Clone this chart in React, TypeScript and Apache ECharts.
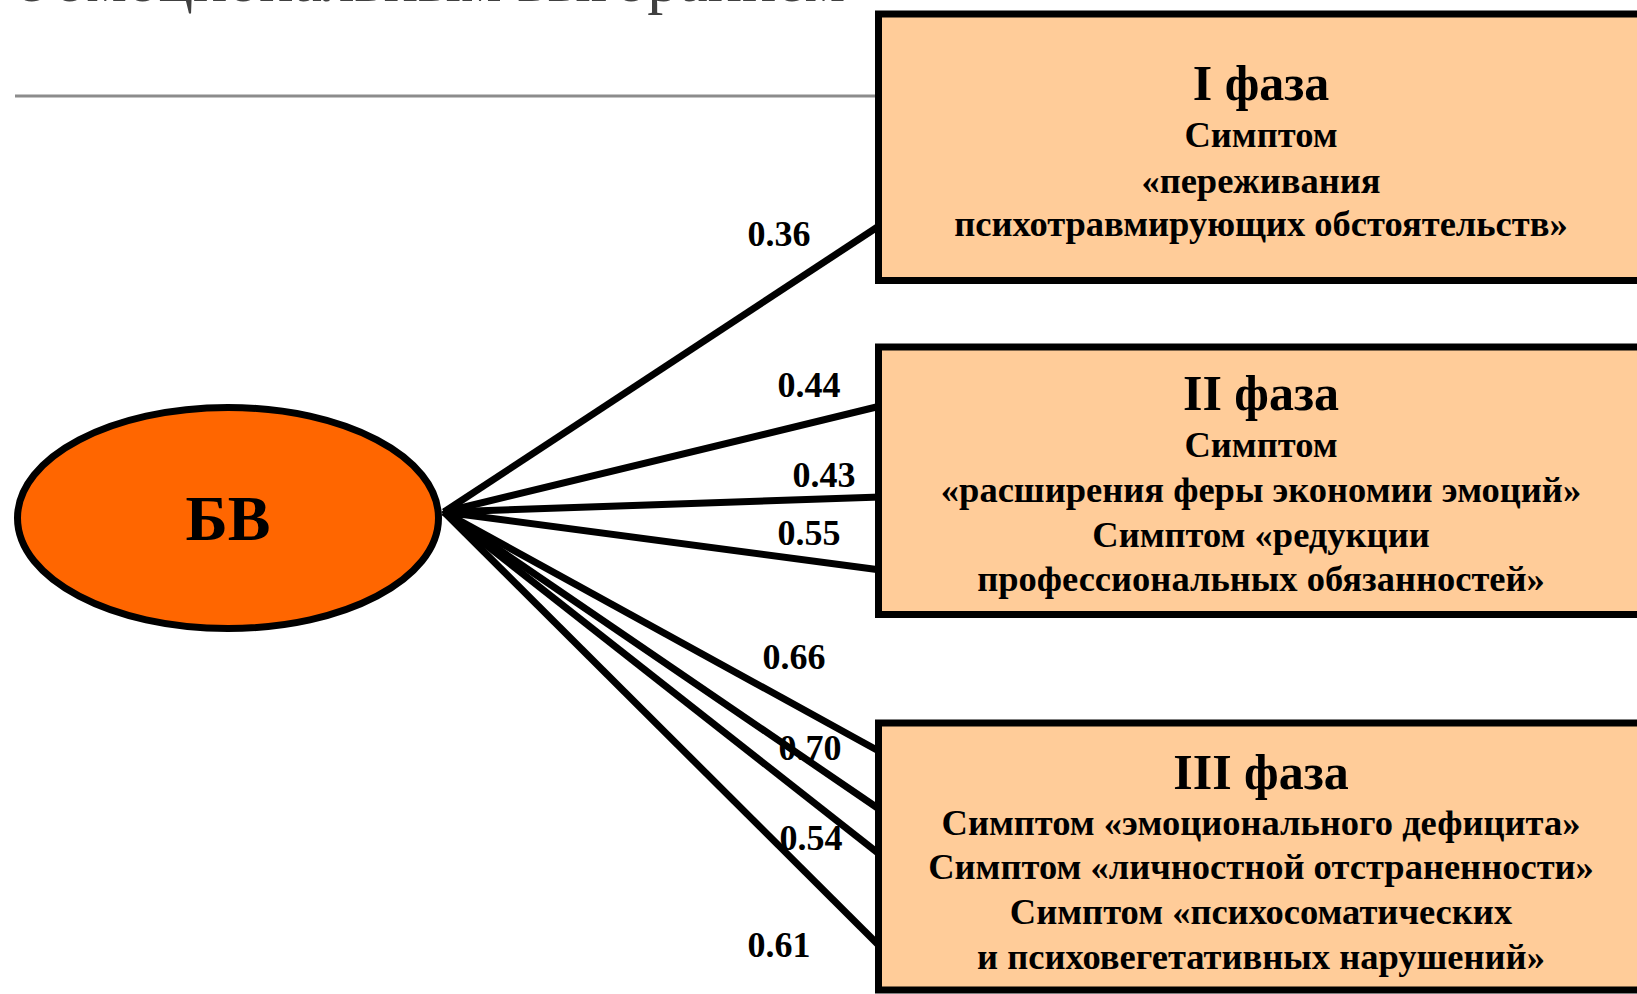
import React, { useEffect, useRef } from "react";
import * as echarts from "echarts";

// ---------- data ----------
const slideTitle = "с эмоциональным выгоранием";
const centerLabel = "БВ";
const coefficients = [0.36, 0.44, 0.43, 0.55, 0.66, 0.7, 0.54, 0.61];
const phaseTitles = ["I фаза", "II фаза", "III фаза"];
const phaseLines = [
  ["Симптом", "«переживания", "психотравмирующих обстоятельств»"],
  [
    "Симптом",
    "«расширения феры экономии эмоций»",
    "Симптом «редукции",
    "профессиональных обязанностей»",
  ],
  [
    "Симптом «эмоционального дефицита»",
    "Симптом «личностной отстраненности»",
    "Симптом «психосоматических",
    "и психовегетативных нарушений»",
  ],
];

// ---------- layout ----------
const W = 1637;
const H = 994;
const HUB = { x: 444, y: 512 };
const ELLIPSE = { cx: 228, cy: 518, rx: 210.5, ry: 110.5 };
const BOX_X = 878.5;
const BOX_W = 800;
const BOXES = [
  { y: 14, h: 266.5 },
  { y: 347, h: 267.5 },
  { y: 723, h: 267 },
];
const LINE_END_Y = [225, 406, 497, 570, 752, 810, 855, 947];
const LABEL_POS = [
  [779, 234],
  [809, 385],
  [824, 475],
  [809, 533],
  [794, 657],
  [810, 748],
  [811, 838],
  [779, 945],
];
const TEXT_CX = 1261;
const TITLE_Y = [83, 393, 772];
const BODY_Y = [
  [134, 180, 223],
  [444, 489, 534, 578],
  [822, 866, 911, 956],
];
const SERIF = "'Liberation Serif', 'DejaVu Serif', serif";

function buildGraphic(): any[] {
  const g: any[] = [];
  // slide title (cut off at top, as in the source slide)
  g.push({
    type: "text",
    z: 1,
    x: 15,
    y: 11,
    style: {
      text: slideTitle,
      x: 0,
      y: 0,
      fill: "#404040",
      font: `64px ${SERIF}`,
      align: "left",
      verticalAlign: "bottom",
    },
  });
  g.push({
    type: "line",
    z: 1,
    shape: { x1: 15, y1: 96, x2: 880, y2: 96 },
    style: { stroke: "#8c8c8c", lineWidth: 3 },
  });
  // connector lines
  LINE_END_Y.forEach((y) => {
    g.push({
      type: "line",
      z: 2,
      shape: { x1: HUB.x, y1: HUB.y, x2: BOX_X + 2, y2: y },
      style: { stroke: "#000", lineWidth: 7 },
    });
  });
  // ellipse
  g.push({
    type: "ellipse",
    z: 3,
    shape: ELLIPSE,
    style: { fill: "#FF6600", stroke: "#000", lineWidth: 7 },
  });
  g.push({
    type: "polygon",
    z: 4,
    shape: {
      points: [
        [HUB.x - 3, HUB.y],
        [HUB.x + 18, HUB.y - 14],
        [HUB.x + 18, HUB.y + 16],
      ],
    },
    style: { fill: "#000" },
  });
  g.push({
    type: "text",
    z: 6,
    x: ELLIPSE.cx,
    y: ELLIPSE.cy,
    style: {
      text: centerLabel,
      x: 0,
      y: 0,
      fill: "#000",
      font: `bold 64px ${SERIF}`,
      align: "center",
      verticalAlign: "middle",
    },
  });
  // boxes
  BOXES.forEach((b, i) => {
    g.push({
      type: "rect",
      z: 5,
      shape: { x: BOX_X, y: b.y, width: BOX_W, height: b.h },
      style: { fill: "#FFCC99", stroke: "#000", lineWidth: 7 },
    });
    g.push({
      type: "text",
      z: 6,
      x: TEXT_CX,
      y: TITLE_Y[i],
      style: {
        text: phaseTitles[i],
        x: 0,
        y: 0,
        fill: "#000",
        font: `bold 50px ${SERIF}`,
        align: "center",
        verticalAlign: "middle",
      },
    });
    phaseLines[i].forEach((t, j) => {
      g.push({
        type: "text",
        z: 6,
        x: TEXT_CX,
        y: BODY_Y[i][j],
        style: {
          text: t,
          x: 0,
          y: 0,
          fill: "#000",
          font: `bold 36.5px ${SERIF}`,
          align: "center",
          verticalAlign: "middle",
        },
      });
    });
  });
  // coefficient labels
  coefficients.forEach((v, i) => {
    g.push({
      type: "text",
      z: 7,
      x: LABEL_POS[i][0],
      y: LABEL_POS[i][1],
      style: {
        text: v.toFixed(2),
        x: 0,
        y: 0,
        fill: "#000",
        font: `bold 36px ${SERIF}`,
        align: "center",
        verticalAlign: "middle",
      },
    });
  });
  return g;
}

export default function App() {
  const ref = useRef<HTMLDivElement>(null);
  useEffect(() => {
    document.body.style.margin = "0";
    document.body.style.overflow = "hidden";
    if (!ref.current) return;
    const chart = echarts.init(ref.current, undefined, { renderer: "svg" });
    chart.setOption({
      animation: false,
      backgroundColor: "#ffffff",
      graphic: { elements: buildGraphic() },
    });
    return () => chart.dispose();
  }, []);
  return (
    <div
      ref={ref}
      style={{ position: "absolute", left: 0, top: 0, width: W, height: H }}
    />
  );
}
